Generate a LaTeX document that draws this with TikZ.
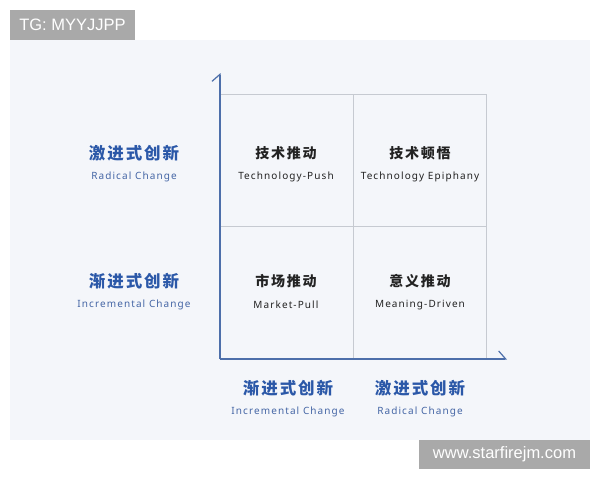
\documentclass[tikz,border=0pt]{standalone}
\usepackage{fontspec}
\usetikzlibrary{arrows.meta}
\newfontfamily\cjkfont[LetterSpace=12]{Noto Sans CJK SC}
\newfontfamily\latnfont[LetterSpace=11]{Noto Sans}
\newfontfamily\markfont{Liberation Sans}
\definecolor{panelbg}{HTML}{F4F6FA}
\definecolor{markgray}{HTML}{A9A9A9}
\definecolor{axisblue}{HTML}{4D6FAA}
\definecolor{gridgray}{HTML}{C6CAD1}
\definecolor{headblue}{HTML}{2B58A8}
\definecolor{subblue}{HTML}{4566A5}
\definecolor{celltext}{HTML}{222222}

\begin{document}
\begin{tikzpicture}[x=1pt,y=-1pt,
  watermark/.style={text=white,font=\markfont\fontsize{16.5}{19}\selectfont,inner sep=0pt},
  axislabel/.style={text=headblue,font=\cjkfont\bfseries\fontsize{16.5}{19}\selectfont,inner sep=0pt},
  axissub/.style={text=subblue,font=\latnfont\fontsize{10}{12}\selectfont,inner sep=0pt},
  celllabel/.style={text=celltext,font=\cjkfont\bfseries\fontsize{14}{16}\selectfont,inner sep=0pt},
  cellsub/.style={text=celltext,font=\latnfont\fontsize{10}{12}\selectfont,inner sep=0pt},
  gridline/.style={draw=gridgray,line width=1pt},
  axis/.style={draw=axisblue,line width=1.2pt,-{Straight Barb[harpoon,length=7pt,width=16pt]}}]
\useasboundingbox (0,0) rectangle (600,480);
\fill[white] (0,0) rectangle (600,480);
\fill[panelbg] (10,40) rectangle (590,440);

% watermarks
\fill[markgray] (10,10) rectangle (135,40);
\node[watermark] (tg) at (72.5,25) {TG: MYYJJPP};
\fill[markgray] (419,440) rectangle (590,469);
\node[watermark] (site) at (504.5,454.5) {www.starfirejm.com};

% quadrant grid
\draw[gridline] (220,94) rectangle (486,359);
\draw[gridline] (353,94) -- (353,359);
\draw[gridline] (220,226.5) -- (486,226.5);

% axes
\coordinate (origin) at (220,359);
\coordinate (ytip) at (220,73);
\coordinate (xtip) at (507,359);
\draw[axis] (origin) -- (ytip);
\draw[axis] (origin) -- (xtip);

% cells
\node[celllabel] (push) at (286,153) {技术推动};
\node[cellsub] (push-en) at (286,177) {Technology-Push};
\node[celllabel] (epiphany) at (420,153) {技术顿悟};
\node[cellsub] (epiphany-en) at (420,177) {Technology Epiphany};
\node[celllabel] (pull) at (286,281) {市场推动};
\node[cellsub] (pull-en) at (286,305) {Market-Pull};
\node[celllabel] (meaning) at (420,281) {意义推动};
\node[cellsub] (meaning-en) at (420,305) {Meaning-Driven};

% vertical axis labels
\node[axislabel] (y-radical) at (134,153) {激进式创新};
\node[axissub] (y-radical-en) at (134,177) {Radical Change};
\node[axislabel] (y-incr) at (134,281) {渐进式创新};
\node[axissub] (y-incr-en) at (134,305) {Incremental Change};

% horizontal axis labels
\node[axislabel] (x-incr) at (288,388) {渐进式创新};
\node[axissub] (x-incr-en) at (288,412) {Incremental Change};
\node[axislabel] (x-radical) at (420,388) {激进式创新};
\node[axissub] (x-radical-en) at (420,412) {Radical Change};
\end{tikzpicture}
\end{document}
